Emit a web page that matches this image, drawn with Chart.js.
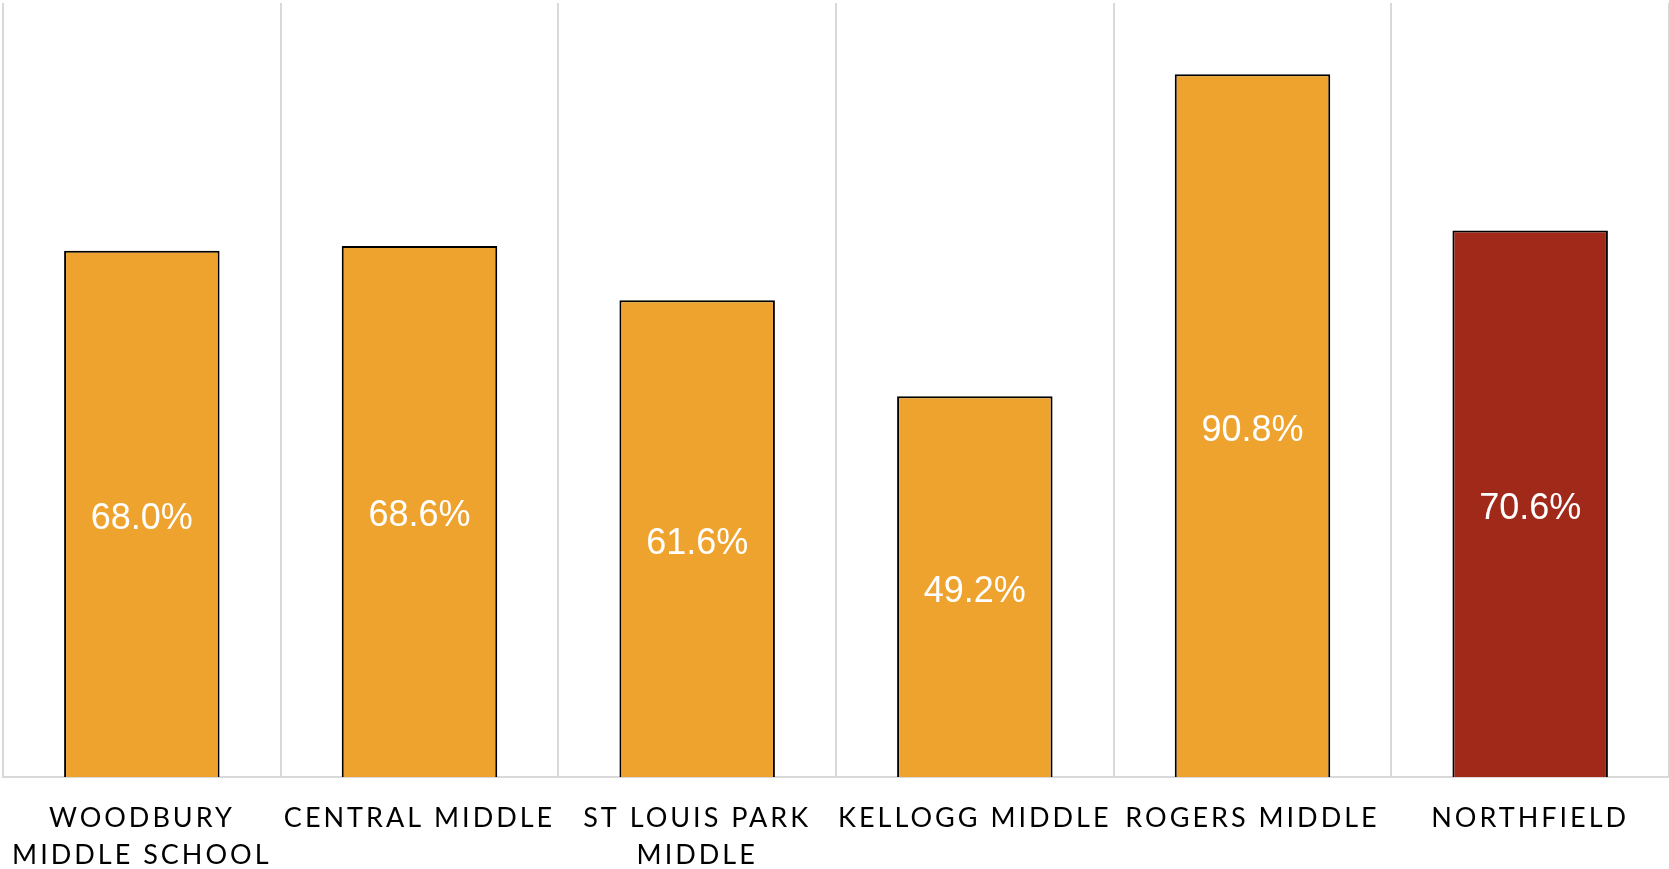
<!DOCTYPE html>
<html>
<head>
<meta charset="utf-8">
<script src="https://cdn.jsdelivr.net/npm/chart.js@4"></script>
<style>
  html, body { margin: 0; padding: 0; background: #ffffff; }
  #wrap { width: 1669px; height: 869px; position: relative; }
</style>
</head>
<body>
<div id="wrap"><canvas id="c"></canvas></div>
<script>
const categories = [
  ['WOODBURY', 'MIDDLE SCHOOL'],
  ['CENTRAL MIDDLE'],
  ['ST LOUIS PARK', 'MIDDLE'],
  ['KELLOGG MIDDLE'],
  ['ROGERS MIDDLE'],
  ['NORTHFIELD']
];
const values = [68.0, 68.6, 61.6, 49.2, 90.8, 70.6];
const barColors = ['#EFA32F', '#EFA32F', '#EFA32F', '#EFA32F', '#EFA32F', '#A1291A'];

const spacingPlugin = {
  id: 'letterSpacing',
  beforeLayout(chart) { chart.ctx.letterSpacing = '3px'; },
  beforeDraw(chart) { chart.ctx.letterSpacing = '3px'; }
};

const valueLabels = {
  id: 'valueLabels',
  afterDatasetsDraw(chart) {
    const ctx = chart.ctx;
    ctx.save();
    ctx.letterSpacing = '0px';
    ctx.font = '36px "Liberation Sans", Arial, sans-serif';
    ctx.fillStyle = '#ffffff';
    ctx.textAlign = 'center';
    ctx.textBaseline = 'middle';
    const meta = chart.getDatasetMeta(0);
    meta.data.forEach((bar, i) => {
      const v = chart.data.datasets[0].data[i];
      ctx.fillText(v.toFixed(1) + '%', bar.x, (bar.y + bar.base) / 2 + 5);
    });
    ctx.restore();
  }
};

new Chart(document.getElementById('c'), {
  type: 'bar',
  data: {
    labels: categories,
    datasets: [{
      data: values,
      backgroundColor: barColors,
      borderColor: '#000000',
      borderWidth: 2,
      barPercentage: 0.56,
      categoryPercentage: 1.0
    }]
  },
  options: {
    responsive: true,
    maintainAspectRatio: false,
    animation: false,
    layout: { padding: { left: 3, top: 3, right: 0, bottom: 0 } },
    plugins: { legend: { display: false }, tooltip: { enabled: false } },
    scales: {
      x: {
        grid: { display: true, offset: true, color: '#d9d9d9', lineWidth: 2, drawTicks: false },
        border: { display: true, color: '#d9d9d9', width: 2 },
        ticks: {
          color: '#000000',
          padding: 22.5,
          autoSkip: false,
          maxRotation: 0,
          minRotation: 0,
          font: { family: 'Lato, "Open Sans", sans-serif', size: 27, lineHeight: '37px' }
        },
        afterFit(scale) {
          scale.height = 92;
          scale.paddingLeft = 0;
          scale.paddingRight = 0;
        }
      },
      y: {
        display: false,
        min: 0,
        max: 100
      }
    }
  },
  plugins: [spacingPlugin, valueLabels]
});
</script>
</body>
</html>
